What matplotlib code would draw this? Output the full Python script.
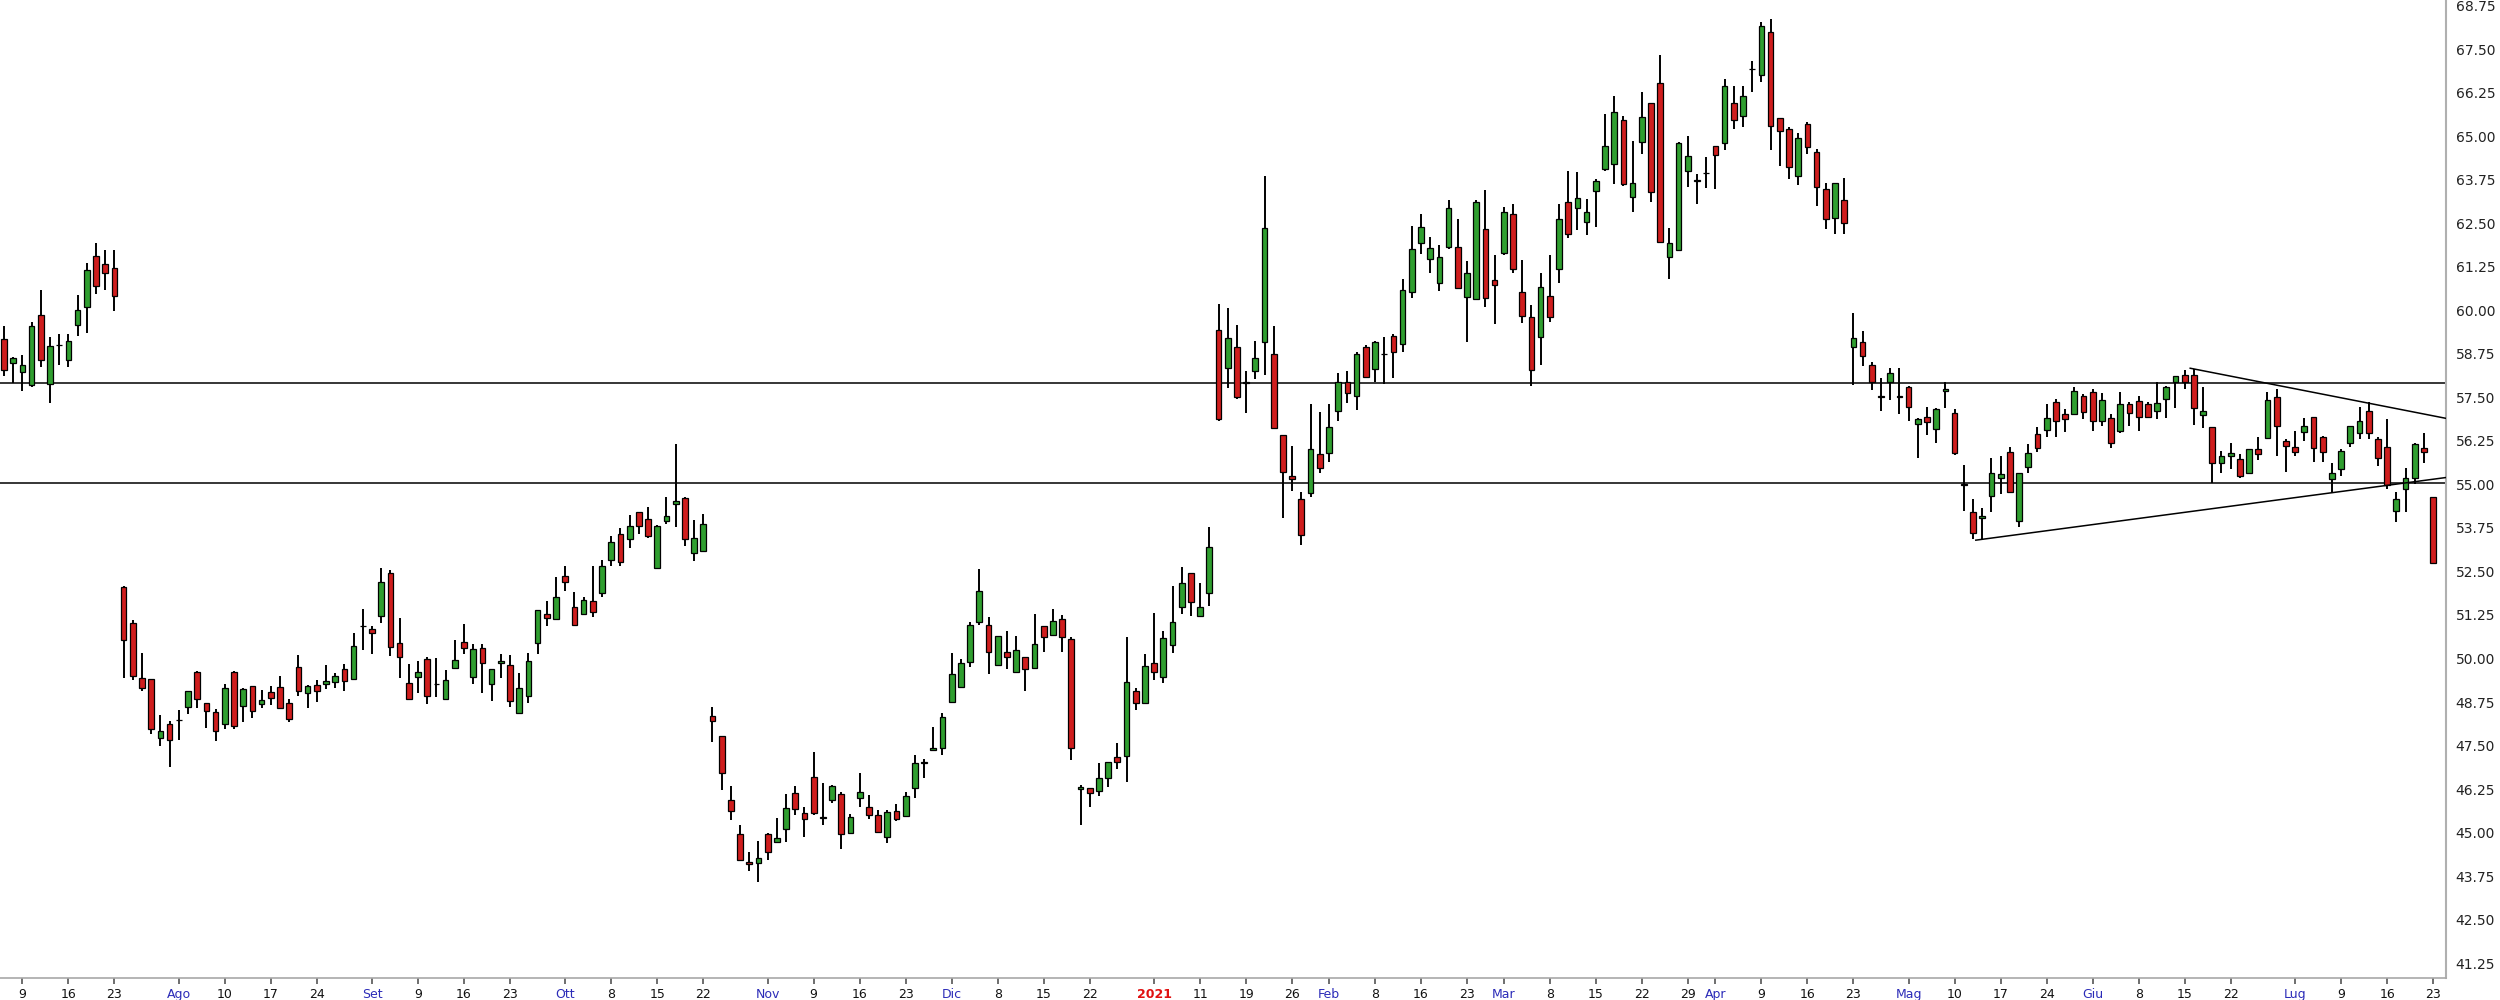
import numpy as np
import pandas as pd
import matplotlib
matplotlib.use('Agg')
import matplotlib.pyplot as plt

# trading days (NYSE calendar) shown on the chart
holidays = ['2020-09-07', '2020-11-26', '2020-12-25', '2021-01-01', '2021-01-18',
            '2021-02-15', '2021-04-02', '2021-05-31', '2021-07-05']
days = pd.bdate_range('2020-07-07', '2021-07-23', freq='C', holidays=holidays)

# OHLC values, one per trading day
opens = [59.17, 58.49, 58.24, 57.86, 59.87, 57.89, 59.00, 58.58, 59.58, 60.10,
         61.57, 61.33, 61.23, 52.06, 51.02, 49.43, 49.41, 47.71, 48.11, 48.22,
         48.61, 49.62, 48.71, 48.46, 48.13, 49.62, 48.63, 49.22, 48.68, 49.04,
         49.18, 48.73, 49.75, 49.00, 49.25, 49.27, 49.33, 49.70, 49.40, 50.92,
         50.86, 51.23, 52.47, 50.45, 49.30, 49.48, 49.99, 49.26, 48.85, 49.74,
         50.47, 49.48, 50.29, 49.26, 49.87, 49.80, 48.43, 48.92, 50.45, 51.28,
         51.13, 52.37, 51.47, 51.28, 51.66, 51.88, 52.82, 53.59, 53.43, 54.22,
         54.00, 52.60, 53.96, 54.44, 54.61, 53.03, 53.08, 48.35, 47.78, 45.92,
         44.95, 44.14, 44.12, 44.95, 44.72, 45.09, 46.13, 45.55, 46.59, 45.42,
         45.93, 46.11, 44.98, 45.98, 45.72, 45.50, 44.86, 45.63, 45.47, 46.27,
         47.00, 47.37, 47.42, 48.74, 49.17, 49.89, 51.06, 50.96, 49.80, 50.20,
         49.62, 50.05, 49.74, 50.94, 50.68, 51.13, 50.55, 46.24, 46.27, 46.19,
         46.56, 47.18, 47.20, 49.07, 48.71, 49.86, 49.46, 50.39, 51.47, 52.45,
         51.22, 51.89, 59.44, 58.34, 58.96, 57.91, 58.26, 59.08, 58.75, 56.42,
         55.25, 54.57, 54.76, 55.88, 55.91, 57.11, 57.93, 57.54, 58.94, 58.31,
         58.74, 59.27, 59.04, 60.54, 61.95, 61.47, 60.78, 61.82, 61.82, 60.38,
         60.32, 62.33, 60.88, 61.64, 62.77, 60.54, 59.80, 59.23, 60.42, 61.18,
         63.13, 62.94, 62.55, 63.44, 64.05, 64.21, 65.47, 63.25, 64.85, 65.95,
         66.53, 61.54, 61.74, 64.02, 63.73, 63.94, 64.72, 64.80, 65.97, 65.60,
         66.93, 66.77, 67.99, 65.54, 65.20, 63.86, 65.35, 64.56, 63.48, 62.67,
         63.17, 58.94, 59.08, 58.43, 57.55, 57.94, 57.55, 57.79, 56.74, 56.93,
         56.59, 57.68, 57.05, 54.99, 54.22, 54.03, 54.67, 55.20, 55.94, 53.96,
         55.51, 56.45, 56.57, 57.38, 57.02, 57.02, 57.55, 57.65, 56.83, 56.92,
         56.55, 57.30, 57.40, 57.30, 57.12, 57.45, 57.94, 58.15, 58.15, 57.00,
         56.64, 55.63, 55.83, 55.73, 55.34, 56.01, 56.33, 57.50, 56.26, 56.07,
         56.52, 56.93, 56.35, 55.15, 55.44, 56.20, 56.49, 57.11, 56.30, 56.09,
         54.25, 54.86, 55.18, 56.04, 54.63]
highs = [59.55, 58.67, 58.72, 59.66, 60.60, 59.23, 59.31, 59.31, 60.44, 61.35,
         61.95, 61.75, 61.75, 52.09, 51.10, 50.15, 49.41, 48.38, 48.20, 48.52,
         49.08, 49.65, 48.73, 48.54, 49.27, 49.65, 49.14, 49.22, 49.09, 49.22,
         49.49, 48.84, 50.11, 49.24, 49.38, 49.81, 49.57, 49.83, 50.72, 51.42,
         50.94, 52.60, 52.55, 51.15, 49.85, 49.94, 50.05, 50.02, 49.68, 50.53,
         50.98, 50.42, 50.42, 49.71, 50.12, 50.09, 49.58, 50.17, 51.40, 51.66,
         52.34, 52.65, 51.90, 51.76, 52.65, 52.84, 53.52, 53.75, 54.13, 54.22,
         54.34, 53.83, 54.64, 56.17, 54.64, 53.99, 54.15, 48.62, 47.78, 46.35,
         45.22, 44.43, 44.75, 45.00, 45.41, 46.11, 46.34, 45.72, 47.30, 46.41,
         46.37, 46.15, 45.53, 46.70, 46.08, 45.65, 45.65, 45.82, 46.17, 47.23,
         47.10, 48.04, 48.44, 50.15, 49.98, 51.06, 52.57, 51.20, 50.65, 50.79,
         50.65, 50.05, 51.28, 50.94, 51.41, 51.25, 50.63, 46.37, 46.27, 46.99,
         47.04, 47.58, 50.63, 49.14, 50.12, 51.32, 50.79, 52.08, 52.64, 52.45,
         52.16, 53.77, 60.19, 60.06, 59.58, 58.27, 59.13, 63.85, 59.55, 56.42,
         56.11, 54.79, 57.31, 57.09, 57.31, 58.20, 58.26, 58.82, 59.01, 59.13,
         59.23, 59.33, 60.90, 62.43, 62.77, 62.10, 61.88, 63.18, 62.62, 61.42,
         63.16, 63.46, 61.59, 62.98, 63.06, 61.45, 60.16, 61.09, 61.59, 63.05,
         64.02, 63.99, 63.19, 63.77, 65.64, 66.17, 65.60, 64.88, 66.27, 65.95,
         67.34, 62.36, 64.85, 65.01, 63.92, 64.40, 64.72, 66.64, 66.45, 66.45,
         67.18, 68.28, 68.37, 65.54, 65.28, 65.09, 65.41, 64.63, 63.65, 63.67,
         63.80, 59.92, 59.42, 58.53, 58.05, 58.34, 58.34, 57.84, 56.90, 57.22,
         57.19, 57.95, 57.16, 55.56, 54.57, 54.31, 55.75, 55.83, 56.09, 55.34,
         56.16, 56.66, 57.30, 57.45, 57.16, 57.81, 57.60, 57.74, 57.62, 57.03,
         57.67, 57.38, 57.54, 57.38, 57.94, 57.84, 58.12, 58.29, 58.31, 57.81,
         56.66, 55.96, 56.20, 55.88, 56.01, 56.35, 57.65, 57.75, 56.30, 56.55,
         56.90, 56.93, 56.38, 55.63, 56.01, 56.68, 57.22, 57.38, 56.35, 56.88,
         54.77, 55.47, 56.20, 56.47, 54.63]
lows = [58.13, 57.92, 57.68, 57.81, 58.38, 57.35, 58.42, 58.38, 59.28, 59.34,
        60.46, 60.60, 59.98, 49.43, 49.38, 49.06, 47.82, 47.50, 46.89, 47.66,
        48.41, 48.58, 48.00, 47.63, 47.98, 47.96, 48.17, 48.30, 48.58, 48.66,
        48.54, 48.17, 48.93, 48.58, 48.74, 49.13, 49.14, 49.08, 49.37, 50.24,
        50.13, 51.01, 50.08, 49.45, 48.80, 49.00, 48.68, 48.90, 48.83, 49.70,
        50.12, 49.26, 49.00, 48.79, 49.45, 48.61, 48.40, 48.71, 50.12, 50.93,
        51.10, 51.95, 50.96, 51.25, 51.20, 51.76, 52.65, 52.65, 53.17, 53.58,
        53.46, 52.60, 53.87, 53.79, 53.22, 52.79, 53.05, 47.61, 46.22, 45.36,
        44.19, 43.90, 43.59, 44.20, 44.69, 44.74, 45.50, 44.88, 45.50, 45.22,
        45.84, 44.52, 44.95, 45.74, 45.38, 45.02, 44.69, 45.33, 45.44, 45.98,
        46.56, 47.35, 47.23, 48.71, 49.14, 49.77, 50.96, 49.55, 49.80, 49.69,
        49.57, 49.08, 49.72, 50.18, 50.65, 50.18, 47.08, 45.22, 45.72, 46.05,
        46.32, 46.82, 46.46, 48.52, 48.69, 49.38, 49.29, 50.17, 51.27, 51.22,
        51.20, 51.51, 56.83, 57.76, 57.45, 57.05, 58.02, 58.15, 56.61, 54.03,
        54.81, 53.26, 54.65, 55.32, 55.66, 56.83, 57.33, 57.14, 58.05, 57.93,
        57.88, 58.05, 58.82, 60.35, 61.62, 61.08, 60.57, 61.76, 60.61, 59.10,
        60.32, 60.09, 59.61, 61.59, 61.07, 59.63, 57.83, 58.43, 59.66, 60.78,
        62.07, 62.31, 62.17, 62.41, 64.02, 63.63, 63.58, 62.84, 64.49, 63.11,
        61.96, 60.89, 61.74, 63.54, 63.06, 63.51, 63.48, 64.61, 65.20, 65.28,
        66.29, 66.55, 64.61, 64.15, 63.77, 63.60, 64.49, 63.01, 62.34, 62.21,
        62.21, 57.86, 58.40, 57.72, 57.11, 57.43, 57.02, 56.81, 55.75, 56.42,
        56.20, 57.19, 55.85, 54.25, 53.43, 53.43, 54.20, 54.72, 54.77, 53.79,
        55.32, 55.94, 56.37, 56.36, 56.52, 57.00, 56.88, 56.55, 56.69, 56.04,
        56.49, 56.69, 56.55, 56.90, 56.87, 56.90, 57.19, 57.73, 56.70, 56.63,
        55.03, 55.32, 55.44, 55.20, 55.29, 55.69, 56.30, 55.82, 55.35, 55.82,
        56.26, 55.66, 55.66, 54.77, 55.24, 56.09, 56.30, 56.30, 55.54, 54.86,
        53.93, 54.20, 55.02, 55.63, 52.72]
closes = [58.29, 58.64, 58.43, 59.55, 58.58, 58.97, 59.02, 59.12, 60.01, 61.17,
          60.71, 61.09, 60.41, 50.53, 49.51, 49.14, 47.98, 47.91, 47.66, 48.24,
          49.06, 48.84, 48.50, 47.92, 49.14, 48.07, 49.11, 48.50, 48.82, 48.86,
          48.57, 48.25, 49.08, 49.22, 49.08, 49.35, 49.49, 49.36, 50.37, 50.93,
          50.72, 52.20, 50.32, 50.03, 48.85, 49.60, 48.92, 49.25, 49.38, 49.97,
          50.30, 50.27, 49.87, 49.70, 49.94, 48.79, 49.14, 49.94, 51.40, 51.15,
          51.76, 52.19, 50.96, 51.67, 51.35, 52.65, 53.34, 52.78, 53.82, 53.81,
          53.51, 53.82, 54.10, 54.53, 53.42, 53.46, 53.87, 48.21, 46.70, 45.63,
          44.22, 44.10, 44.27, 44.43, 44.83, 45.70, 45.67, 45.38, 45.55, 45.43,
          46.34, 44.95, 45.44, 46.17, 45.50, 45.02, 45.60, 45.38, 46.05, 46.99,
          47.01, 47.44, 48.31, 49.55, 49.86, 50.96, 51.95, 50.18, 50.65, 50.05,
          50.23, 49.70, 50.41, 50.63, 51.09, 50.63, 47.42, 46.32, 46.13, 46.56,
          47.04, 47.04, 49.33, 48.73, 49.79, 49.62, 50.60, 51.06, 52.16, 51.63,
          51.49, 53.20, 56.87, 59.20, 57.50, 57.92, 58.63, 62.38, 56.61, 55.37,
          55.15, 53.55, 56.01, 55.47, 56.64, 57.93, 57.64, 58.74, 58.10, 59.10,
          58.75, 58.82, 60.59, 61.76, 62.41, 61.79, 61.53, 62.95, 60.64, 61.07,
          63.13, 60.35, 60.73, 62.84, 61.19, 59.84, 58.29, 60.68, 59.80, 62.62,
          62.20, 63.22, 62.82, 63.72, 64.72, 65.69, 63.63, 63.67, 65.57, 63.41,
          61.96, 61.93, 64.82, 64.44, 63.74, 63.95, 64.47, 66.45, 65.47, 66.16,
          66.94, 68.18, 65.31, 65.16, 64.11, 64.95, 64.69, 63.54, 62.63, 63.65,
          62.50, 59.20, 58.69, 57.93, 57.50, 58.21, 57.50, 57.22, 56.88, 56.80,
          57.16, 57.74, 55.90, 54.98, 53.60, 54.10, 55.32, 55.30, 54.78, 55.32,
          55.91, 56.04, 56.90, 56.83, 56.87, 57.69, 57.09, 56.83, 57.43, 56.20,
          57.30, 57.06, 56.95, 56.95, 57.33, 57.81, 58.12, 57.94, 57.19, 57.11,
          55.63, 55.83, 55.90, 55.23, 56.01, 55.87, 57.43, 56.69, 56.11, 55.94,
          56.69, 56.04, 55.92, 55.34, 55.96, 56.68, 56.83, 56.49, 55.75, 54.99,
          54.57, 55.18, 56.16, 55.92, 52.74]

# horizontal support / resistance and triangle lines (x in trading-day units)
levels = [57.91, 55.03]
upper_trend_x = [237.6, 265.4]
upper_trend_y = [58.34, 56.90]
lower_trend_x = [214.3, 265.4]
lower_trend_y = [53.40, 55.20]

# x axis labels: (date, text, kind)
tick_dates = ['2020-07-09', '2020-07-16', '2020-07-23', '2020-08-03', '2020-08-10',
              '2020-08-17', '2020-08-24', '2020-09-01', '2020-09-09', '2020-09-16',
              '2020-09-23', '2020-10-01', '2020-10-08', '2020-10-15', '2020-10-22',
              '2020-11-02', '2020-11-09', '2020-11-16', '2020-11-23', '2020-12-01',
              '2020-12-08', '2020-12-15', '2020-12-22', '2021-01-04', '2021-01-11',
              '2021-01-19', '2021-01-26', '2021-02-01', '2021-02-08', '2021-02-16',
              '2021-02-23', '2021-03-01', '2021-03-08', '2021-03-15', '2021-03-22',
              '2021-03-29', '2021-04-01', '2021-04-09', '2021-04-16', '2021-04-23',
              '2021-05-03', '2021-05-10', '2021-05-17', '2021-05-24', '2021-06-01',
              '2021-06-08', '2021-06-15', '2021-06-22', '2021-07-01', '2021-07-09',
              '2021-07-16', '2021-07-23']
tick_texts = ['9', '16', '23', 'Ago', '10', '17', '24', 'Set', '9', '16', '23', 'Ott',
              '8', '15', '22', 'Nov', '9', '16', '23', 'Dic', '8', '15', '22', '2021',
              '11', '19', '26', 'Feb', '8', '16', '23', 'Mar', '8', '15', '22', '29',
              'Apr', '9', '16', '23', 'Mag', '10', '17', '24', 'Giu', '8', '15', '22',
              'Lug', '9', '16', '23']
month_names = ['Ago', 'Set', 'Ott', 'Nov', 'Dic', 'Feb', 'Mar', 'Apr', 'Mag', 'Giu', 'Lug']
year_names = ['2021']

y_ticks = np.arange(41.25, 68.76, 1.25)

o = np.array(opens)
h = np.array(highs)
l = np.array(lows)
c = np.array(closes)
xx = np.arange(len(days))

up_col = '#2f9e2f'
dn_col = '#cf1d1d'
cols = [up_col if cc >= oo else dn_col for oo, cc in zip(o, c)]

fig = plt.figure(figsize=(25, 10), dpi=100, facecolor='w')
ax = fig.add_axes([0.0, 0.022, 0.9784, 0.978])

ax.vlines(xx, l, h, color='black', linewidth=1.4, zorder=2)
body = np.where(np.abs(c - o) < 0.02, 0.02, c - o)
ax.bar(xx, body, bottom=o, width=0.62, color=cols, edgecolor='black',
       linewidth=0.9, zorder=3)

for lv in levels:
    ax.axhline(lv, color='black', linewidth=1.1, zorder=1)
ax.plot(upper_trend_x, upper_trend_y, color='black', linewidth=1.1, zorder=4)
ax.plot(lower_trend_x, lower_trend_y, color='black', linewidth=1.1, zorder=4)

ax.set_xlim(-0.43, 265.4)
ax.set_ylim(40.82, 68.92)

# y axis on the right
ax.yaxis.tick_right()
ax.set_yticks(y_ticks)
ax.set_yticklabels(['%.2f' % v for v in y_ticks], fontsize=10, color='#222222',
                   family='DejaVu Sans')
ax.tick_params(axis='y', length=0, pad=7)

# x axis labels on trading-day positions
pos = [days.get_loc(pd.Timestamp(d)) for d in tick_dates]
ax.set_xticks(pos)
ax.set_xticklabels(tick_texts, fontsize=9, family='DejaVu Sans')
for lab in ax.get_xticklabels():
    if lab.get_text() in month_names:
        lab.set_color('#2b2bb8')
    elif lab.get_text() in year_names:
        lab.set_color('#e01010')
        lab.set_fontweight('bold')
    else:
        lab.set_color('#111111')
ax.tick_params(axis='x', length=4, width=1.2, color='#555555', pad=3)

for side in ['top', 'left']:
    ax.spines[side].set_visible(False)
ax.spines['right'].set_color('#b0b0b0')
ax.spines['bottom'].set_color('#a8a8a8')
ax.spines['right'].set_linewidth(1.5)
ax.spines['bottom'].set_linewidth(1.2)

fig.savefig('out.png', dpi=100, facecolor=fig.get_facecolor())
